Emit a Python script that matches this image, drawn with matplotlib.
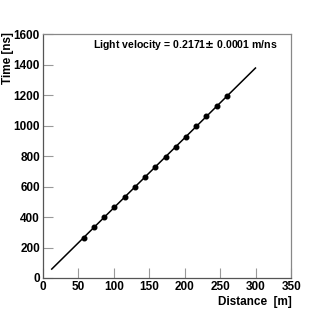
import numpy as np
import matplotlib
matplotlib.use("Agg")
import matplotlib.pyplot as plt

# Data
distance_m = [57.6, 72.0, 86.4, 100.8, 115.2, 129.6, 144.0, 158.4, 172.8,
              187.2, 201.6, 216.0, 230.4, 244.8, 259.2]
time_ns = [265, 332, 398, 464, 531, 597, 663, 730, 796,
           862, 929, 995, 1061, 1128, 1194]
velocity = 0.2171        # m/ns (fit result)
velocity_err = 0.0001
fit_range = [12.7, 299.3]  # m

x_ticks = [0, 50, 100, 150, 200, 250, 300, 350]
y_ticks = [0, 200, 400, 600, 800, 1000, 1200, 1400, 1600]

plt.rcParams['font.family'] = ['Liberation Sans', 'DejaVu Sans']
plt.rcParams['font.weight'] = 'bold'

fig = plt.figure(figsize=(3.27, 3.12), dpi=100)
ax = fig.add_axes([0.1306, 0.109, 0.7608, 0.781])

fx = np.array(fit_range)
ax.plot(fx, fx / velocity, color='black', lw=1.1, zorder=2)
ax.plot(distance_m, time_ns, 'o', color='black', ms=3.3, zorder=3)

ax.set_xlim(0, 350)
ax.set_ylim(0, 1600)
ax.set_xticks(x_ticks)
ax.set_yticks(y_ticks)
ax.tick_params(direction='in', length=7, width=0.8, color='#999999',
               labelsize=8.5, pad=2)
for lab in ax.get_xticklabels() + ax.get_yticklabels():
    lab.set_fontweight('bold')
for s in ax.spines.values():
    s.set_linewidth(0.9)
ax.spines['left'].set_color('#555555')
ax.spines['bottom'].set_color('#555555')
ax.spines['top'].set_color('#888888')
ax.spines['right'].set_color('#888888')

ax.set_xlabel('Distance  [m]', fontsize=8.5, fontweight='bold')
ax.xaxis.set_label_coords(1.0, -0.075)
ax.xaxis.label.set_ha('right')
ax.set_ylabel('Time [ns]', fontsize=8.5, fontweight='bold')
ax.yaxis.set_label_coords(-0.14, 1.01)
ax.yaxis.label.set_ha('right')
ax.yaxis.label.set_va('center')

ax.text(0.574, 0.955, f'Light velocity = {velocity:.4f}$\\pm$ {velocity_err:.4f} m/ns',
        transform=ax.transAxes, ha='center', va='center', fontsize=7.6,
        fontweight='bold')

fig.savefig('out.png', dpi=100)
